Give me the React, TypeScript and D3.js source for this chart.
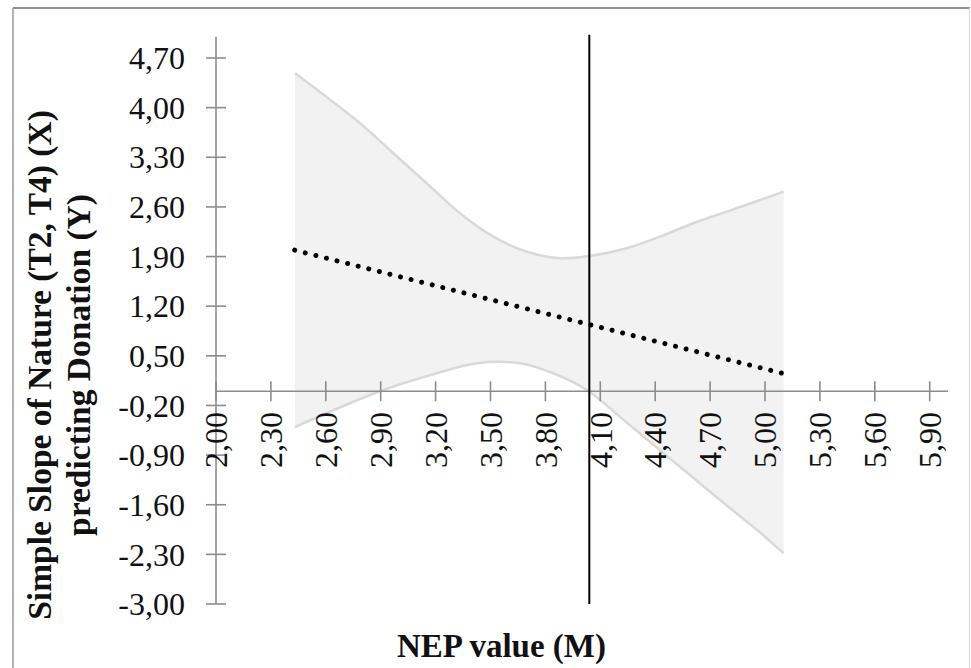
import React from "react";
import * as d3 from "d3";

// NEP (moderator) values and the simple slope estimate
const slopeX = [2.43, 5.1];
const slopeY = [1.99, 0.25];

// Upper confidence bound
const upperX = [2.432, 2.787, 2.969, 3.151, 3.333, 3.515, 3.698, 3.88, 4.044, 4.244, 4.426, 4.608, 4.791, 4.973, 5.102];
const upperY = [4.485, 3.78, 3.357, 2.934, 2.511, 2.181, 1.969, 1.876, 1.908, 2.017, 2.181, 2.369, 2.533, 2.698, 2.815];

// Lower confidence bound
const lowerX = [2.432, 2.896, 3.206, 3.425, 3.661, 3.843, 4.026, 4.244, 4.426, 4.608, 4.791, 4.973, 5.102];
const lowerY = [-0.504, 0.0, 0.254, 0.395, 0.395, 0.254, 0.018, -0.44, -0.83, -1.22, -1.61, -1.99, -2.285];

// Mean of the moderator
const meanNEP = 4.04;

const xTicks = [2.0, 2.3, 2.6, 2.9, 3.2, 3.5, 3.8, 4.1, 4.4, 4.7, 5.0, 5.3, 5.6, 5.9];
const yTicks = [-3.0, -2.3, -1.6, -0.9, -0.2, 0.5, 1.2, 1.9, 2.6, 3.3, 4.0, 4.7];

const W = 971;
const H = 668;

const fmt = (v: number) => v.toFixed(2).replace(".", ",");

export default function App() {
  const x = d3.scaleLinear().domain([2, 6]).range([216, 948]);
  const y = d3.scaleLinear().domain([-3, 4.7]).range([604, 58]);

  const upperPts: [number, number][] = upperX.map((v, i) => [x(v), y(upperY[i])]);
  const lowerPts: [number, number][] = lowerX.map((v, i) => [x(v), y(lowerY[i])]);
  const edge = d3.line().curve(d3.curveCatmullRom.alpha(0.5));
  const upPath = edge(upperPts) || "";
  const lowPath = edge(lowerPts) || "";
  const lowRev = edge([...lowerPts].reverse()) || "";
  const bandPath = upPath + "L" + lowRev.slice(1) + "Z";

  const slopePts: [number, number][] = slopeX.map((v, i) => [x(v), y(slopeY[i])]);
  const slopePath = d3.line()(slopePts) || "";

  const axisColor = "#8c8c8c";
  const font = "'Liberation Serif', 'Times New Roman', serif";
  const yTop = y(5.0);

  return (
    <svg
      width={W}
      height={H}
      style={{ position: "absolute", left: 0, top: 0, background: "#fff" }}
      fontFamily={font}
    >
      <rect x={0} y={0} width={W} height={H} fill="#fff" />
      {/* outer frame */}
      <line x1={13} y1={8} x2={970} y2={8} stroke="#8f8f8f" strokeWidth={2} />
      <line x1={13} y1={8} x2={13} y2={H} stroke="#9a9a9a" strokeWidth={1.5} />
      <line x1={969.5} y1={8} x2={969.5} y2={H} stroke="#dcdcdc" strokeWidth={1} />

      {/* confidence band */}
      <path d={bandPath} fill="#f2f2f2" stroke="none" />
      <path d={upPath} fill="none" stroke="#d9d9d9" strokeWidth={2.5} />
      <path d={lowPath} fill="none" stroke="#d9d9d9" strokeWidth={2.5} />

      {/* y axis */}
      <line x1={x(2)} y1={yTop} x2={x(2)} y2={y(-3)} stroke={axisColor} strokeWidth={1.6} />
      {yTicks.map((t) => (
        <g key={"y" + t}>
          <line x1={x(2) - 10} x2={x(2) + 10} y1={y(t)} y2={y(t)} stroke={axisColor} strokeWidth={1.6} />
          <text x={185} y={y(t)} dy="0.35em" textAnchor="end" fontSize={32} fill="#111">
            {fmt(t)}
          </text>
        </g>
      ))}

      {/* x axis at zero */}
      <line x1={x(2)} y1={y(0)} x2={x(6)} y2={y(0)} stroke={axisColor} strokeWidth={1.6} />
      {xTicks.map((t) => (
        <g key={"x" + t}>
          <line x1={x(t)} x2={x(t)} y1={y(0) - 10} y2={y(0) + 10} stroke={axisColor} strokeWidth={1.6} />
          <text
            transform={`translate(${x(t)},412) rotate(-90)`}
            dy="0.35em"
            textAnchor="end"
            fontSize={32}
            fill="#111"
          >
            {fmt(t)}
          </text>
        </g>
      ))}

      {/* simple slope */}
      <path
        d={slopePath}
        fill="none"
        stroke="#000"
        strokeWidth={5}
        strokeLinecap="round"
        strokeDasharray="0.01 10.9"
      />

      {/* mean marker */}
      <line x1={x(meanNEP)} x2={x(meanNEP)} y1={yTop - 2} y2={y(-3)} stroke="#000" strokeWidth={2} />

      {/* axis titles */}
      <text x={397} y={657} fontSize={33} fontWeight="bold" fill="#111">
        NEP value (M)
      </text>
      <text transform="translate(51,365) rotate(-90)" textAnchor="middle" fontSize={33.5} fontWeight="bold" fill="#111">
        Simple Slope of Nature (T2, T4) (X)
      </text>
      <text transform="translate(90,365) rotate(-90)" textAnchor="middle" fontSize={33.5} fontWeight="bold" fill="#111">
        predicting Donation (Y)
      </text>
    </svg>
  );
}
